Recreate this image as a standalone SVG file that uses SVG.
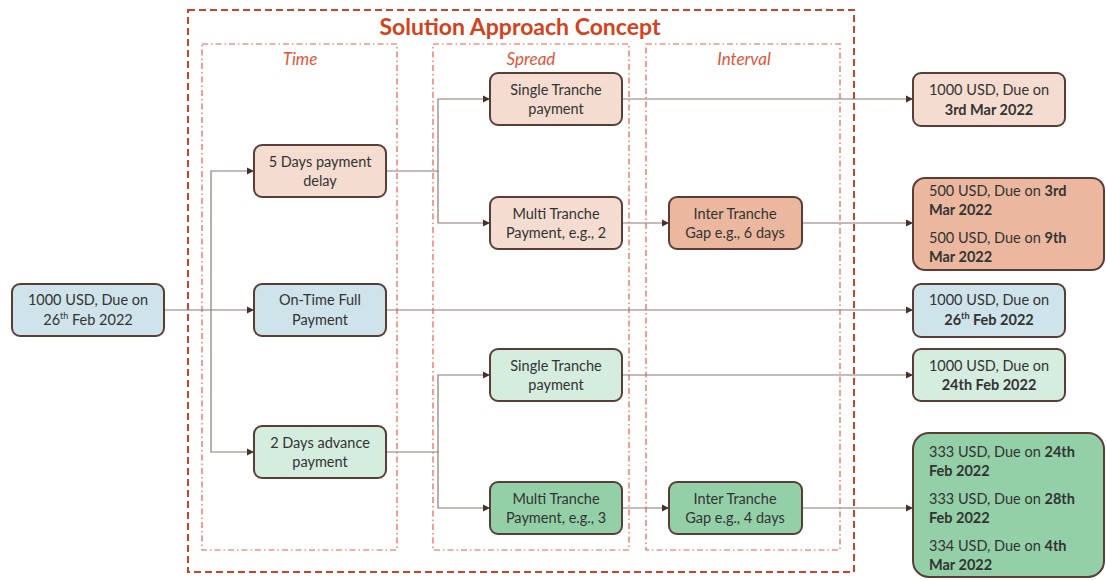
<svg xmlns="http://www.w3.org/2000/svg" width="1106" height="580" viewBox="0 0 1106 580">
<defs>
<marker id="arr" markerWidth="8" markerHeight="8" refX="7" refY="4" orient="auto" markerUnits="userSpaceOnUse">
<path d="M0,0.5 L7,4 L0,7.5 Z" fill="#4a3028"/>
</marker>
<style>
.frame{fill:none;stroke:#c8452a;stroke-width:2;stroke-dasharray:7 4}
.col{fill:none;stroke:#e8604a;stroke-width:1.2;stroke-dasharray:6 3 1.5 3}
.title{font-family:Lato,"Open Sans",sans-serif;font-weight:bold;font-size:23px;fill:#d4411b}
.colt{font-family:Lato,"Open Sans",sans-serif;font-style:italic;font-size:17px;fill:#e0553a}
.n rect{stroke:#5a3e35;stroke-width:2}
.n text{font-family:Lato,"Open Sans",sans-serif;font-size:14.5px;fill:#333}
.b{font-weight:bold}
.peach{fill:#f4ddd0}
.dpeach{fill:#ebb89f}
.blue{fill:#cfe3ea}
.lgreen{fill:#d5eddf}
.mgreen{fill:#93d0a8}
.c path{fill:none;stroke:#8c7b74;stroke-width:1.2}
</style>
</defs>
<rect class="frame" x="188" y="10" width="666" height="562"/>
<text class="title" x="520" y="35" text-anchor="middle">Solution Approach Concept</text>
<rect class="col" x="202" y="44" width="195" height="506"/>
<rect class="col" x="433" y="44" width="196" height="506"/>
<rect class="col" x="646" y="44" width="194" height="506"/>
<text class="colt" x="300" y="65" text-anchor="middle">Time</text>
<text class="colt" x="531" y="65" text-anchor="middle">Spread</text>
<text class="colt" x="744" y="65" text-anchor="middle">Interval</text>

<g class="c">
<path d="M164,310 H254" marker-end="url(#arr)"/>
<path d="M211,310 V171 H254" marker-end="url(#arr)"/>
<path d="M211,310 V452 H254" marker-end="url(#arr)"/>
<path d="M386,171 H438 V99 H490" marker-end="url(#arr)"/>
<path d="M438,171 V223 H490" marker-end="url(#arr)"/>
<path d="M386,310 H913" marker-end="url(#arr)"/>
<path d="M386,452 H438 V375 H490" marker-end="url(#arr)"/>
<path d="M438,452 V508 H490" marker-end="url(#arr)"/>
<path d="M622,99 H913" marker-end="url(#arr)"/>
<path d="M622,223 H669" marker-end="url(#arr)"/>
<path d="M802,223 H913" marker-end="url(#arr)"/>
<path d="M622,375 H913" marker-end="url(#arr)"/>
<path d="M622,508 H669" marker-end="url(#arr)"/>
<path d="M802,508 H913" marker-end="url(#arr)"/>
</g>

<g id="src" class="n"><rect class="blue" x="12" y="284" width="152" height="52" rx="8"/>
<text x="88" y="305" text-anchor="middle">1000 USD, Due on</text>
<text x="88" y="325" text-anchor="middle">26<tspan font-size="9" dy="-6">th</tspan><tspan dy="6"> Feb 2022</tspan></text></g>

<g id="delay" class="n"><rect class="peach" x="254" y="145" width="132" height="52" rx="8"/>
<text x="320" y="167" text-anchor="middle">5 Days payment</text>
<text x="320" y="186" text-anchor="middle">delay</text></g>

<g id="ontime" class="n"><rect class="blue" x="254" y="284" width="132" height="52" rx="8"/>
<text x="320" y="305" text-anchor="middle">On-Time Full</text>
<text x="320" y="325" text-anchor="middle">Payment</text></g>

<g id="advance" class="n"><rect class="lgreen" x="254" y="426" width="132" height="52" rx="8"/>
<text x="320" y="448" text-anchor="middle">2 Days advance</text>
<text x="320" y="467" text-anchor="middle">payment</text></g>

<g id="single1" class="n"><rect class="peach" x="490" y="73" width="132" height="52" rx="8"/>
<text x="556" y="95" text-anchor="middle">Single Tranche</text>
<text x="556" y="114" text-anchor="middle">payment</text></g>

<g id="multi2" class="n"><rect class="peach" x="490" y="197" width="132" height="52" rx="8"/>
<text x="556" y="219" text-anchor="middle">Multi Tranche</text>
<text x="556" y="238" text-anchor="middle">Payment, e.g., 2</text></g>

<g id="gap6" class="n"><rect class="dpeach" x="669" y="197" width="133" height="52" rx="8"/>
<text x="735" y="219" text-anchor="middle">Inter Tranche</text>
<text x="735" y="238" text-anchor="middle">Gap e.g., 6 days</text></g>

<g id="single2" class="n"><rect class="lgreen" x="490" y="349" width="132" height="52" rx="8"/>
<text x="556" y="371" text-anchor="middle">Single Tranche</text>
<text x="556" y="390" text-anchor="middle">payment</text></g>

<g id="multi3" class="n"><rect class="mgreen" x="490" y="482" width="132" height="52" rx="8"/>
<text x="556" y="504" text-anchor="middle">Multi Tranche</text>
<text x="556" y="523" text-anchor="middle">Payment, e.g., 3</text></g>

<g id="gap4" class="n"><rect class="mgreen" x="669" y="482" width="133" height="52" rx="8"/>
<text x="735" y="504" text-anchor="middle">Inter Tranche</text>
<text x="735" y="523" text-anchor="middle">Gap e.g., 4 days</text></g>

<g id="out1" class="n"><rect class="peach" x="913" y="73" width="152" height="53" rx="8"/>
<text x="989" y="95" text-anchor="middle">1000 USD, Due on</text>
<text x="989" y="115" text-anchor="middle" class="b">3rd Mar 2022</text></g>

<g id="out2" class="n"><rect class="dpeach" x="913" y="178" width="191" height="92" rx="12"/>
<text x="929" y="196">500 USD, Due on <tspan class="b">3rd</tspan></text>
<text x="929" y="215" class="b">Mar 2022</text>
<text x="929" y="243">500 USD, Due on <tspan class="b">9th</tspan></text>
<text x="929" y="262" class="b">Mar 2022</text></g>

<g id="out3" class="n"><rect class="blue" x="913" y="284" width="152" height="53" rx="8"/>
<text x="989" y="305" text-anchor="middle">1000 USD, Due on</text>
<text x="989" y="325" text-anchor="middle" class="b">26<tspan font-size="9" dy="-6">th</tspan><tspan dy="6">  Feb 2022</tspan></text></g>

<g id="out4" class="n"><rect class="lgreen" x="913" y="349" width="152" height="52" rx="8"/>
<text x="989" y="371" text-anchor="middle">1000 USD, Due on</text>
<text x="989" y="390" text-anchor="middle" class="b">24th Feb 2022</text></g>

<g id="out5" class="n"><rect class="mgreen" x="913" y="433" width="191" height="144" rx="16"/>
<text x="929" y="457">333 USD, Due on <tspan class="b">24th</tspan></text>
<text x="929" y="476" class="b">Feb 2022</text>
<text x="929" y="504">333 USD, Due on <tspan class="b">28th</tspan></text>
<text x="929" y="523" class="b">Feb 2022</text>
<text x="929" y="551">334 USD, Due on <tspan class="b">4th</tspan></text>
<text x="929" y="570" class="b">Mar 2022</text></g>
</svg>
